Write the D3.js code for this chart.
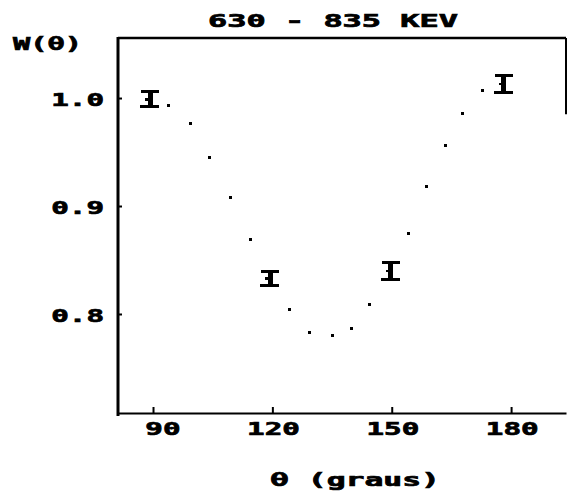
<!DOCTYPE html>
<html>
<head>
  <script src="https://cdn.jsdelivr.net/npm/d3@7"></script>
  <style>
    * { margin: 0; padding: 0; }
    body { background: white; }
    text {
      font-family: "DejaVu Sans Mono", monospace;
      font-weight: bold;
      fill: black;
      stroke: black;
      stroke-width: 0.7px;
    }
  </style>
</head>
<body>
  <script>
    // measured points with error bars
    var angles = [89.3, 119.5, 149.8, 178.2];
    var wValues = [0.999, 0.833, 0.840, 1.013];
    var wErrors = [0.008, 0.008, 0.009, 0.009];

    // fitted curve, drawn dotted
    var fitAngles = [93.8, 99.3, 104.3, 109.6, 114.4, 124.4, 129.4, 135.2, 140.0, 144.5,
                     154.1, 158.8, 163.6, 167.9, 172.7];
    var fitValues = [0.9935, 0.976, 0.945, 0.908, 0.869, 0.804, 0.783, 0.780, 0.787, 0.809,
                     0.875, 0.918, 0.956, 0.986, 1.007];

    var xTicks = [90, 120, 150, 180];
    var yTicks = [0.8, 0.9, 1.0];

    var w = 568, h = 497;
    var charW = 17.6; // glyphs are stretched wide like the plotter font

    var x = d3.scaleLinear().domain([81.2, 193.8]).range([118, 566]);
    var y = d3.scaleLinear().domain([0.7083, 1.0556]).range([413, 38]);

    var svg = d3.select("body").append("svg")
      .attr("width", w)
      .attr("height", h);

    function stretch(sel) {
      sel.attr("textLength", function() { return this.textContent.length * charW; })
        .attr("lengthAdjust", "spacingAndGlyphs");
    }

    // frame: left and bottom axes come from d3, top line and the bit of the right side
    svg.append("line")
      .attr("x1", x.range()[0]).attr("x2", x.range()[1])
      .attr("y1", y.range()[1]).attr("y2", y.range()[1])
      .attr("stroke", "black").attr("stroke-width", 2.5);
    svg.append("line")
      .attr("x1", x.range()[1]).attr("x2", x.range()[1])
      .attr("y1", y.range()[1]).attr("y2", y(0.985))
      .attr("stroke", "black").attr("stroke-width", 2);

    var yAxis = svg.append("g")
      .attr("transform", "translate(" + x.range()[0] + ",0)")
      .call(d3.axisLeft(y).tickValues(yTicks).tickFormat(d3.format(".1f"))
        .tickSize(-4).tickSizeOuter(0).tickPadding(14));
    yAxis.select(".domain").attr("stroke-width", 3).attr("d", "M0," + (y.range()[1] - 1) + "V" + (y.range()[0] + 3));
    yAxis.selectAll(".tick line").attr("stroke-width", 2);
    yAxis.selectAll(".tick text")
      .attr("font-size", 18).attr("font-family", null)
      .attr("dy", "0.4em")
      .call(stretch);

    var xAxis = svg.append("g")
      .attr("transform", "translate(0," + y.range()[0] + ")")
      .call(d3.axisBottom(x).tickValues(xTicks).tickFormat(d3.format("d"))
        .tickSize(-6).tickSizeOuter(0).tickPadding(9));
    xAxis.select(".domain").attr("stroke-width", 2);
    xAxis.selectAll(".tick line").attr("stroke-width", 2);
    xAxis.selectAll(".tick text")
      .attr("font-size", 18).attr("font-family", null)
      .attr("text-anchor", "end")
      .attr("x", 27)
      .call(stretch);

    // dotted fit curve
    svg.selectAll("rect.fit")
      .data(fitAngles)
      .enter()
      .append("rect")
      .attr("class", "fit")
      .attr("x", function(d) { return x(d) - 1.5; })
      .attr("y", function(d, i) { return y(fitValues[i]) - 1.5; })
      .attr("width", 3)
      .attr("height", 3)
      .attr("shape-rendering", "crispEdges")
      .attr("fill", "black");

    // error bars drawn as "I" symbols
    var bars = svg.selectAll("g.err")
      .data(angles)
      .enter()
      .append("g")
      .attr("class", "err")
      .attr("shape-rendering", "crispEdges");

    bars.append("rect")
      .attr("x", function(d) { return x(d) - 2.5; })
      .attr("y", function(d, i) { return y(wValues[i] + wErrors[i]); })
      .attr("width", 5)
      .attr("height", function(d, i) { return y(wValues[i] - wErrors[i]) - y(wValues[i] + wErrors[i]); });
    bars.append("rect")
      .attr("x", function(d) { return x(d) - 9; })
      .attr("y", function(d, i) { return y(wValues[i] + wErrors[i]); })
      .attr("width", 18)
      .attr("height", 3);
    bars.append("rect")
      .attr("x", function(d) { return x(d) - 10; })
      .attr("y", function(d, i) { return y(wValues[i] - wErrors[i]) - 3; })
      .attr("width", 19)
      .attr("height", 3);
    bars.append("rect")
      .attr("x", function(d) { return x(d) - 5; })
      .attr("y", function(d, i) { return y(wValues[i]) - 1; })
      .attr("width", 6)
      .attr("height", 2.5);

    // titles
    svg.append("text")
      .attr("x", 208).attr("y", 27)
      .attr("font-size", 18)
      .text("630 - 835 KEV")
      .attr("textLength", 250)
      .attr("lengthAdjust", "spacingAndGlyphs");

    svg.append("text")
      .attr("x", 13).attr("y", 50)
      .attr("font-size", 18)
      .text("W(θ)")
      .attr("textLength", 69)
      .attr("lengthAdjust", "spacingAndGlyphs");

    svg.append("text")
      .attr("x", 270).attr("y", 486)
      .attr("font-size", 18)
      .text("θ (graus)")
      .attr("textLength", 170)
      .attr("lengthAdjust", "spacingAndGlyphs");
  </script>
</body>
</html>
